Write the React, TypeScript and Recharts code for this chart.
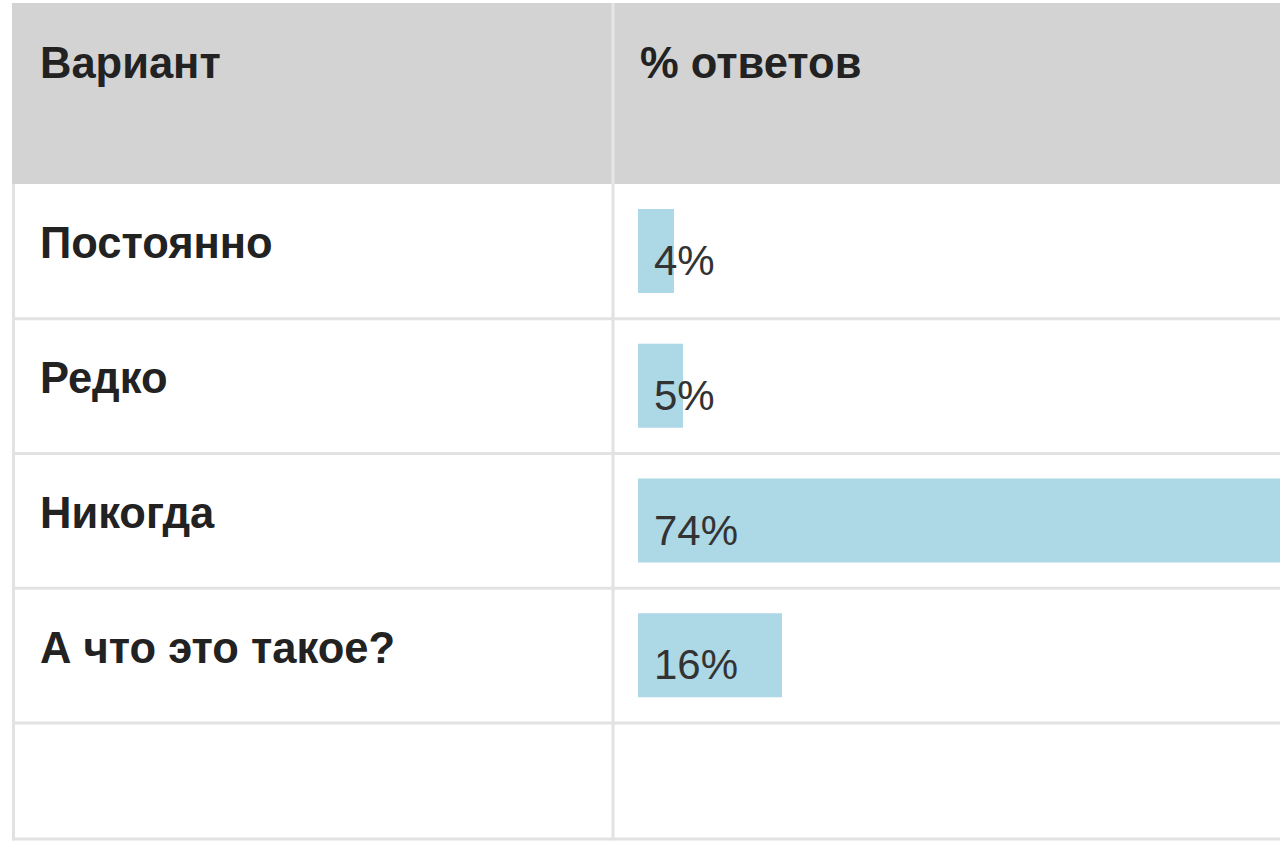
import React from "react";
import { BarChart, Bar, XAxis, YAxis, LabelList } from "recharts";

const categories = ["Постоянно", "Редко", "Никогда", "А что это такое?"];
const shares = [4, 5, 74, 16];
const headerLabels = ["Вариант", "% ответов"];

const data = categories.map((name, i) => ({ name, value: shares[i] }));

const FONT = '"Liberation Sans", Arial, Helvetica, sans-serif';
const W = 1280;
const H = 857;
const TOP = 184;
const ROW_BOTTOM = 723;
const TABLE_BOTTOM = 839;
const COL_X = 613;
const PLOT_LEFT = 638;
const PX_PER_PCT = 9;
const LINE = "#e2e2e2";
const BOLD_SIZE = 43.5;

const CategoryTick = (props: any) => {
  const { y, payload } = props;
  return (
    <text x={40} y={y + 7} fontFamily={FONT} fontSize={BOLD_SIZE} fontWeight="bold" fill="#222">
      {payload.value}
    </text>
  );
};

const ValueLabel = (props: any) => {
  const { x, y, height, value } = props;
  return (
    <text x={x + 16} y={y + height / 2 + 24} fontFamily={FONT} fontSize={42} fill="#333">
      {value}%
    </text>
  );
};

export default function App() {
  const rowH = (ROW_BOTTOM - TOP) / categories.length;
  const rowLines = categories.map((_, i) => TOP + rowH * (i + 1));
  const chartWidth = PLOT_LEFT + 100 * PX_PER_PCT;
  return (
    <div
      style={{
        position: "absolute",
        left: 0,
        top: 0,
        width: W,
        height: H,
        overflow: "hidden",
        background: "#fff",
      }}
    >
      <svg width={W} height={H} style={{ position: "absolute", left: 0, top: 0 }}>
        <rect x={12} y={3} width={W - 12} height={TOP - 3} fill="#d3d3d3" />
        <line x1={COL_X} x2={COL_X} y1={3} y2={TOP} stroke="#e6e6e6" strokeWidth={3} />
        <line x1={COL_X} x2={COL_X} y1={TOP} y2={TABLE_BOTTOM + 1.5} stroke={LINE} strokeWidth={3} />
        <line x1={13.5} x2={13.5} y1={TOP} y2={TABLE_BOTTOM + 1.5} stroke={LINE} strokeWidth={3} />
        {rowLines.map((y, i) => (
          <line key={i} x1={12} x2={W} y1={y} y2={y} stroke={LINE} strokeWidth={3} />
        ))}
        <line x1={12} x2={W} y1={TABLE_BOTTOM} y2={TABLE_BOTTOM} stroke={LINE} strokeWidth={3} />
        <text x={40} y={78} fontFamily={FONT} fontSize={BOLD_SIZE} fontWeight="bold" fill="#222">
          {headerLabels[0]}
        </text>
        <text x={640} y={78} fontFamily={FONT} fontSize={BOLD_SIZE} fontWeight="bold" fill="#222">
          {headerLabels[1]}
        </text>
      </svg>
      <div style={{ position: "absolute", left: 0, top: 0 }}>
        <BarChart
          width={chartWidth}
          height={H}
          data={data}
          layout="vertical"
          margin={{ top: TOP, bottom: H - ROW_BOTTOM, left: 0, right: 0 }}
        >
          <XAxis type="number" domain={[0, 100]} hide />
          <YAxis
            type="category"
            dataKey="name"
            width={PLOT_LEFT}
            axisLine={false}
            tickLine={false}
            tick={<CategoryTick />}
          />
          <Bar dataKey="value" fill="#add8e6" barSize={84} isAnimationActive={false}>
            <LabelList dataKey="value" content={<ValueLabel />} />
          </Bar>
        </BarChart>
      </div>
    </div>
  );
}
